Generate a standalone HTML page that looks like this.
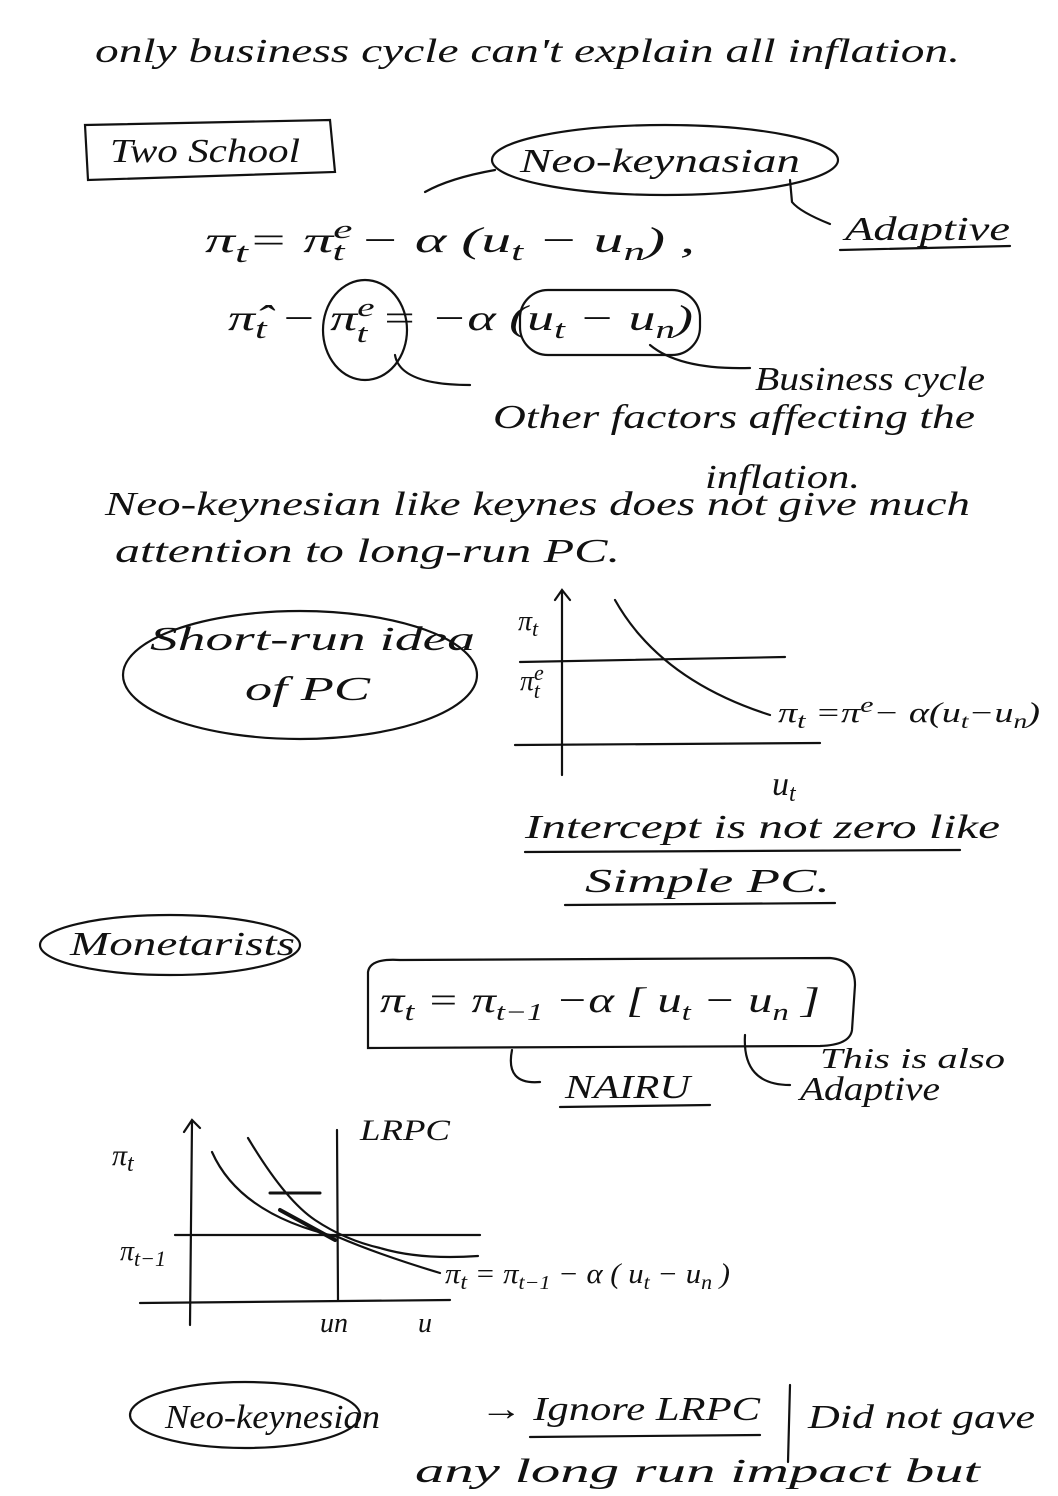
<!DOCTYPE html>
<html><head><meta charset="utf-8"><style>
html,body{margin:0;padding:0;background:#fff}
svg{display:block}
text{font-family:"Liberation Serif",serif;font-style:italic;fill:#111}
</style></head><body>
<svg width="1058" height="1496" viewBox="0 0 1058 1496" xmlns="http://www.w3.org/2000/svg">
<g fill="none" stroke="#111" stroke-width="2.2" stroke-linecap="round">
<path d="M85 125 L330 120 L335 172 L88 180 Z"/>
<ellipse cx="665" cy="160" rx="173" ry="35"/>
<path d="M495 170 Q450 178 425 192"/>
<path d="M790 180 L792 202 Q800 212 830 224"/>
<path d="M840 250 L1010 246"/>
<ellipse cx="365" cy="330" rx="42" ry="50"/>
<rect x="520" y="290" width="180" height="65" rx="28"/>
<path d="M395 355 Q400 385 470 385"/>
<path d="M650 345 Q680 370 750 368"/>
<ellipse cx="300" cy="675" rx="177" ry="64"/>
<path d="M562 775 L562 592 M555 600 L562 590 L570 600"/>
<path d="M515 745 L820 743"/>
<path d="M520 662 L785 657"/>
<path d="M615 600 Q660 680 770 715"/>
<path d="M525 852 L960 850"/>
<path d="M565 905 L835 903"/>
<ellipse cx="170" cy="945" rx="130" ry="30"/>
<path d="M368 972 Q370 958 400 960 L830 958 Q855 960 855 985 L852 1030 Q850 1045 820 1046 L368 1048 Z"/>
<path d="M512 1050 Q505 1085 540 1082"/>
<path d="M560 1107 L710 1105"/>
<path d="M745 1035 Q742 1085 790 1085"/>
<path d="M190 1325 L192 1122 M184 1132 L192 1120 L200 1128"/>
<path d="M140 1303 L450 1300"/>
<path d="M337 1130 L338 1300"/>
<path d="M175 1235 L480 1235"/>
<path d="M212 1152 Q240 1215 338 1237 Q380 1255 440 1273"/>
<path d="M248 1138 Q285 1200 315 1220 Q345 1240 380 1248 Q420 1260 478 1256"/>
<path d="M270 1193 L320 1193" stroke-width="3"/>
<path d="M280 1210 L335 1240" stroke-width="4"/>
<ellipse cx="245" cy="1415" rx="115" ry="33"/>
<path d="M530 1437 L760 1435"/>
<path d="M790 1385 L788 1462"/>
</g>
<g font-size="34">
<text x="95" y="62" textLength="865" lengthAdjust="spacingAndGlyphs">only business cycle  can't  explain  all  inflation.</text>
<text x="110" y="162" textLength="190" lengthAdjust="spacingAndGlyphs">Two School</text>
<text x="520" y="172" textLength="280" lengthAdjust="spacingAndGlyphs">Neo-keynasian</text>
<text x="845" y="240" textLength="165" lengthAdjust="spacingAndGlyphs">Adaptive</text>
<text x="205" y="252" font-size="36" textLength="490" lengthAdjust="spacingAndGlyphs">π<tspan font-size="28" dy="10">t</tspan><tspan dy="-10">=   π</tspan><tspan font-size="26" dy="-14">e</tspan><tspan font-size="26" dx="-12" dy="22">t</tspan><tspan dy="-8">   − α  (u</tspan><tspan font-size="26" dy="8">t</tspan><tspan dy="-8"> − u</tspan><tspan font-size="26" dy="8">n</tspan><tspan dy="-8">) ,</tspan></text>
<text x="228" y="330" font-size="36" textLength="465" lengthAdjust="spacingAndGlyphs">π̂<tspan font-size="28" dy="8">t</tspan><tspan dy="-8">  − π</tspan><tspan font-size="26" dy="-14">e</tspan><tspan font-size="26" dx="-12" dy="26">t</tspan><tspan dy="-12">   = −α  (u</tspan><tspan font-size="26" dy="8">t</tspan><tspan dy="-8"> − u</tspan><tspan font-size="26" dy="8">n</tspan><tspan dy="-8">)</tspan></text>
<text x="755" y="390" textLength="230" lengthAdjust="spacingAndGlyphs">Business cycle</text>
<text x="493" y="428" textLength="482" lengthAdjust="spacingAndGlyphs">Other  factors  affecting  the</text>
<text x="705" y="488" textLength="155" lengthAdjust="spacingAndGlyphs">inflation.</text>
<text x="105" y="515" textLength="865" lengthAdjust="spacingAndGlyphs">Neo-keynesian  like  keynes  does not  give much</text>
<text x="115" y="562" textLength="505" lengthAdjust="spacingAndGlyphs">attention  to  long-run  PC.</text>
<text x="150" y="650" textLength="325" lengthAdjust="spacingAndGlyphs">Short-run idea</text>
<text x="245" y="700" textLength="125" lengthAdjust="spacingAndGlyphs">of PC</text>
<text x="518" y="630" font-size="28">π<tspan font-size="22" dy="6">t</tspan></text>
<text x="520" y="690" font-size="28">π<tspan font-size="22" dy="-10">e</tspan><tspan font-size="22" dx="-10" dy="18">t</tspan></text>
<text x="778" y="722" font-size="28" textLength="262" lengthAdjust="spacingAndGlyphs">π<tspan font-size="22" dy="6">t</tspan><tspan dy="-6"> =π</tspan><tspan font-size="22" dy="-10">e</tspan><tspan dy="10">− α(u</tspan><tspan font-size="20" dy="6">t</tspan><tspan dy="-6">−u</tspan><tspan font-size="20" dy="6">n</tspan><tspan dy="-6">)</tspan></text>
<text x="772" y="795">u<tspan font-size="24" dy="6">t</tspan></text>
<text x="525" y="838" textLength="475" lengthAdjust="spacingAndGlyphs">Intercept  is not  zero  like</text>
<text x="585" y="892" textLength="245" lengthAdjust="spacingAndGlyphs">Simple  PC.</text>
<text x="70" y="955" textLength="225" lengthAdjust="spacingAndGlyphs">Monetarists</text>
<text x="380" y="1012" font-size="36" textLength="440" lengthAdjust="spacingAndGlyphs">π<tspan font-size="26" dy="8">t</tspan><tspan dy="-8">  =  π</tspan><tspan font-size="24" dy="8">t−1</tspan><tspan dy="-8">  −α [ u</tspan><tspan font-size="24" dy="8">t</tspan><tspan dy="-8">  − u</tspan><tspan font-size="24" dy="8">n</tspan><tspan dy="-8"> ]</tspan></text>
<text x="565" y="1098" textLength="125" lengthAdjust="spacingAndGlyphs">NAIRU</text>
<text x="820" y="1068" font-size="28" textLength="185" lengthAdjust="spacingAndGlyphs">This is also</text>
<text x="800" y="1100" textLength="140" lengthAdjust="spacingAndGlyphs">Adaptive</text>
<text x="360" y="1140" font-size="30" textLength="90" lengthAdjust="spacingAndGlyphs">LRPC</text>
<text x="112" y="1165" font-size="30">π<tspan font-size="24" dy="6">t</tspan></text>
<text x="120" y="1260" font-size="28">π<tspan font-size="22" dy="6">t−1</tspan></text>
<text x="445" y="1283" font-size="28" textLength="285" lengthAdjust="spacingAndGlyphs">π<tspan font-size="22" dy="6">t</tspan><tspan dy="-6"> = π</tspan><tspan font-size="20" dy="6">t−1</tspan><tspan dy="-6"> − α ( u</tspan><tspan font-size="20" dy="6">t</tspan><tspan dy="-6"> − u</tspan><tspan font-size="20" dy="6">n</tspan><tspan dy="-6"> )</tspan></text>
<text x="320" y="1332" font-size="28">un</text>
<text x="418" y="1332" font-size="28">u</text>
<text x="165" y="1428" textLength="215" lengthAdjust="spacingAndGlyphs">Neo-keynesian</text>
<text x="480" y="1420" textLength="280" lengthAdjust="spacingAndGlyphs">→ Ignore  LRPC</text>
<text x="808" y="1428" textLength="227" lengthAdjust="spacingAndGlyphs">Did not gave</text>
<text x="415" y="1482" textLength="565" lengthAdjust="spacingAndGlyphs">any  long  run  impact  but</text>
</g>
</svg>
</body></html>
